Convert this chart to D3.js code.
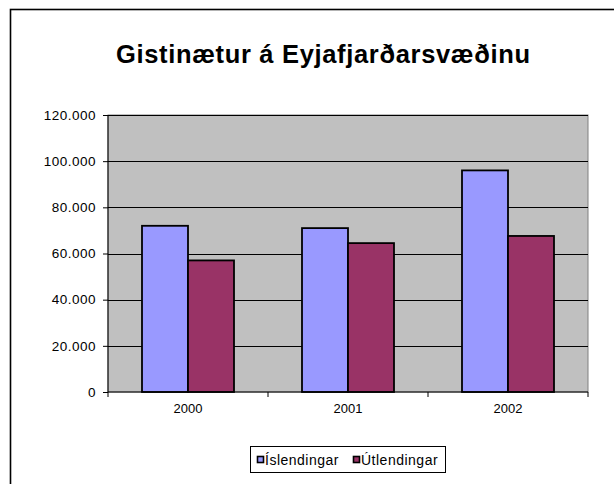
<!DOCTYPE html>
<html>
<head>
<meta charset="utf-8">
<script src="https://cdn.jsdelivr.net/npm/d3@7"></script>
<style>
  body { margin: 0; background: #fff; }
  svg { display: block; font-family: "Liberation Sans", Arial, sans-serif; }
</style>
</head>
<body>
<svg id="chart" width="614" height="484"></svg>
<script>
// data
var years = ["2000", "2001", "2002"];
var islendingar = [72000, 71000, 96000];
var utlendingar = [57000, 64500, 67600];
var seriesNames = ["Íslendingar", "Útlendingar"];
var seriesColors = ["#9999FF", "#993366"];
var yTicks = [0, 20000, 40000, 60000, 80000, 100000, 120000];

var svg = d3.select("#chart");

var fmt = d3.formatLocale({decimal: ",", thousands: ".", grouping: [3], currency: ["", ""]}).format(",");

// outer chart frame (runs off right & bottom)
svg.append("rect")
  .attr("x", 10.5).attr("y", 9.5)
  .attr("width", 640).attr("height", 520)
  .attr("fill", "#fff").attr("stroke", "#000").attr("stroke-width", 1.6);

// title
svg.append("text")
  .attr("x", 116).attr("y", 63)
  .attr("font-size", 25.5).attr("font-weight", "bold")
  .attr("textLength", 414).attr("lengthAdjust", "spacing")
  .text("Gistinætur á Eyjafjarðarsvæðinu");

var plotL = 108, plotR = 588, plotT = 115, plotB = 392;

var x = d3.scaleBand().domain(years).range([plotL, plotR]);
var y = d3.scaleLinear().domain([0, 120000]).range([plotB, plotT]);
var inner = d3.scaleBand().domain(seriesNames).range([0, 92]);

// plot area
svg.append("rect")
  .attr("x", plotL).attr("y", plotT)
  .attr("width", plotR - plotL).attr("height", plotB - plotT)
  .attr("fill", "#C0C0C0").attr("stroke", "#808080").attr("stroke-width", 1);

// gridlines
svg.append("g").selectAll("line").data(yTicks.slice(1)).enter().append("line")
  .attr("x1", plotL).attr("x2", plotR)
  .attr("y1", function(d){ return Math.round(y(d)) + 0.5; })
  .attr("y2", function(d){ return Math.round(y(d)) + 0.5; })
  .attr("stroke", "#000").attr("stroke-width", 1);

// bars
var groups = svg.append("g").selectAll("g").data(years).enter().append("g")
  .attr("transform", function(d){ return "translate(" + (x(d) + (x.bandwidth() - 92) / 2) + ",0)"; });

groups.selectAll("rect").data(function(d, i){
    return [
      {name: seriesNames[0], value: islendingar[i], color: seriesColors[0]},
      {name: seriesNames[1], value: utlendingar[i], color: seriesColors[1]}
    ];
  }).enter().append("rect")
  .attr("x", function(d){ return inner(d.name); })
  .attr("width", inner.bandwidth())
  .attr("y", function(d){ return y(d.value); })
  .attr("height", function(d){ return plotB - y(d.value); })
  .attr("fill", function(d){ return d.color; })
  .attr("stroke", "#000").attr("stroke-width", 1.8);

// y axis
var yAxis = svg.append("g")
  .attr("transform", "translate(" + plotL + ",0)")
  .call(d3.axisLeft(y).tickValues(yTicks).tickFormat(fmt).tickSize(5).tickPadding(7));
yAxis.selectAll("text").attr("font-size", 13.5).attr("letter-spacing", 0.5)
  .attr("fill", "#000").attr("font-family", "Liberation Sans, Arial, sans-serif");
yAxis.selectAll("line, path").attr("stroke", "#000");
yAxis.select(".domain").attr("d", "M0," + plotT + "V" + plotB);

// x axis
var xAxis = svg.append("g")
  .attr("transform", "translate(0," + plotB + ")")
  .call(d3.axisBottom(x).tickSize(0).tickPadding(12));
xAxis.selectAll("text").attr("font-size", 13).attr("fill", "#000").attr("font-family", "Liberation Sans, Arial, sans-serif");
xAxis.select(".domain").attr("stroke", "#000").attr("d", "M" + plotL + ",0H" + plotR);
xAxis.selectAll(".sep").data([plotL].concat(years.map(function(d){ return x(d) + x.bandwidth(); })))
  .enter().append("line")
  .attr("x1", function(d){ return d; }).attr("x2", function(d){ return d; })
  .attr("y1", 0).attr("y2", 5).attr("stroke", "#000");

// legend
var legend = svg.append("g");
legend.append("rect")
  .attr("x", 250.5).attr("y", 446.5).attr("width", 195).attr("height", 26)
  .attr("fill", "#fff").attr("stroke", "#000").attr("stroke-width", 1);
var legendX = [257, 353];
seriesNames.forEach(function(name, i){
  legend.append("rect")
    .attr("x", legendX[i] + 0.5).attr("y", 456.5).attr("width", 6).attr("height", 6)
    .attr("fill", seriesColors[i]).attr("stroke", "#000").attr("stroke-width", 1.6);
  legend.append("text")
    .attr("x", legendX[i] + 8).attr("y", 465)
    .attr("font-size", 14).attr("letter-spacing", 0.5).attr("fill", "#000")
    .text(name);
});
</script>
</body>
</html>
